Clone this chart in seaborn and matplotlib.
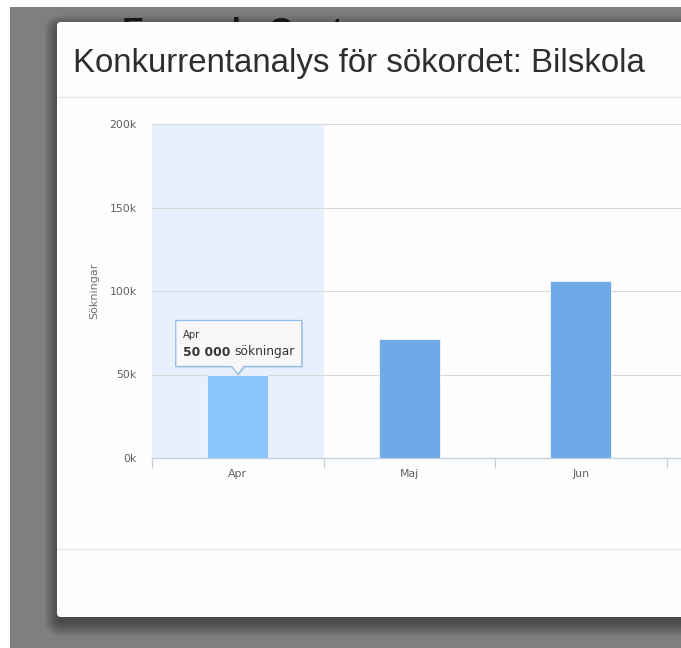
import matplotlib
matplotlib.use("Agg")
import matplotlib.pyplot as plt
import seaborn as sns
import pandas as pd
from matplotlib.patches import Rectangle, FancyBboxPatch, Polygon
from matplotlib.ticker import FuncFormatter, FixedLocator

# ---- data ----
months = ["Apr", "Maj", "Jun"]
searches = [50000, 71500, 106000]
y_ticks = [0, 50000, 100000, 150000, 200000]
title = "Konkurrentanalys för sökordet: Bilskola"
y_label = "Sökningar"
bg_title = "Example Customer"
tooltip_unit = "sökningar"

sns.set_theme(style="white")
plt.rcParams['font.family'] = ['DejaVu Sans']

W, H = 681, 648
fig = plt.figure(figsize=(W / 100, H / 100), dpi=100)
fig.patch.set_facecolor("white")

# ---- background page + modal (pixel coordinates, y down) ----
bg = fig.add_axes([0, 0, 1, 1], zorder=0)
bg.set_xlim(0, W)
bg.set_ylim(H, 0)
bg.axis("off")
bg.add_patch(Rectangle((10, 7), W, H, facecolor="#7f7f7f", edgecolor="none", zorder=0))
bg.text(122, 41, bg_title, fontsize=24, fontweight="bold", color="#1e1e1e",
        family="Liberation Sans", va="baseline", zorder=1)
# soft shadow
mx0, my0, mw, mh = 57, 22, 700, 595
for k in range(11):
    e = k * 1.3
    bg.add_patch(FancyBboxPatch((mx0 - e + 1, my0 + 6 - e), mw + 2 * e, mh + 2 * e,
                                boxstyle="round,pad=0,rounding_size=%.1f" % (4 + e),
                                facecolor="black", edgecolor="none", alpha=0.045, zorder=2))
bg.add_patch(FancyBboxPatch((mx0, my0), mw, mh, boxstyle="round,pad=0,rounding_size=4",
                            facecolor="#fefefe", edgecolor="none", zorder=3))
bg.plot([57, W], [97, 97], color="#e5e5e5", lw=1.0, zorder=4)
bg.plot([57, W], [549, 549], color="#e5e5e5", lw=1.0, zorder=4)
tt = bg.text(73, 72, title, fontsize=20, color="#2e2e2e", family="Liberation Sans",
             va="baseline", zorder=5)

# ---- chart ----
left, right, top, bottom = 152, W, 124, 458
ax = fig.add_axes([left / W, (H - bottom) / H, (right - left) / W, (bottom - top) / H], zorder=1)
ax.set_facecolor("none")

df = pd.DataFrame({"month": months, "searches": searches})
palette = {m: ("#8bc5fc" if i == 0 else "#6fa9e7") for i, m in enumerate(months)}
ax.axvspan(-0.5, 0.5, color="#e7f0fc", zorder=0, lw=0)
sns.barplot(data=df, x="month", y="searches", hue="month", palette=palette,
            legend=False, width=0.356, saturation=1, ax=ax, zorder=3,
            edgecolor="white", linewidth=0.5)

ax.set_xlim(-0.5, (right - left) / 171.5 - 0.5)
ax.set_ylim(0, 200000)
ax.yaxis.set_major_locator(FixedLocator(y_ticks))
ax.yaxis.set_major_formatter(FuncFormatter(lambda v, p: f"{int(v / 1000)}k"))
ax.grid(axis="y", color="#d8d8d8", lw=0.8, zorder=1)
ax.set_axisbelow(True)
for gl in ax.get_ygridlines():
    gl.set_clip_on(False)
for s in ["top", "right", "left"]:
    ax.spines[s].set_visible(False)
ax.spines["bottom"].set_color("#c0d0e0")
ax.spines["bottom"].set_linewidth(0.9)
ax.spines["bottom"].set_zorder(4)

ax.set_xticks(range(len(months)))
ax.set_xticklabels(months)
ax.set_xticks([i - 0.5 for i in range(len(months) + 1)], minor=True)
ax.tick_params(axis="x", which="major", length=0, pad=8, labelsize=7.8, labelcolor="#606060")
ax.tick_params(axis="x", which="minor", length=7, width=0.9, color="#c0d0e0", bottom=True)
ax.tick_params(axis="y", length=0, pad=11, labelsize=7.8, labelcolor="#606060")
ax.set_xlabel("")
ax.set_ylabel(y_label, fontsize=8, color="#707070")
ax.yaxis.set_label_coords((99 - left) / (right - left), 0.5)

# fit title width
fig.canvas.draw()
w = tt.get_window_extent().width
tt.set_fontsize(20 * 572 / w)

# ---- tooltip anchored to Apr bar ----
ov = fig.add_axes([0, 0, 1, 1], zorder=2)
ov.set_xlim(0, W)
ov.set_ylim(H, 0)
ov.axis("off")
dx, dy = ax.transData.transform((0, searches[0]))
px, py = dx, H - dy
bl, br, btop, bbot = px - 62, px + 64, py - 54, py - 8
shadow = Polygon([(bl + 1.5, btop + 1.5), (br + 1.5, btop + 1.5), (br + 1.5, bbot + 1.5),
                  (px + 7.5, bbot + 1.5), (px + 1.5, py + 1.5), (px - 4.5, bbot + 1.5),
                  (bl + 1.5, bbot + 1.5)], closed=True, facecolor="black", alpha=0.08,
                 edgecolor="none")
ov.add_patch(shadow)
box = Polygon([(bl, btop), (br, btop), (br, bbot), (px + 6, bbot), (px, py),
               (px - 6, bbot), (bl, bbot)], closed=True, facecolor="#f8f8f8",
              edgecolor="#8fbbe9", lw=0.9, joinstyle="round")
ov.add_patch(box)
ov.text(bl + 7, btop + 17, months[0], fontsize=7.2, color="#333333", va="baseline")
val = f"{searches[0]:,}".replace(",", " ")
t1 = ov.text(bl + 7, btop + 35, val, fontsize=8.8, fontweight="bold", color="#333333",
             va="baseline")
fig.canvas.draw()
bb = t1.get_window_extent()
ov.text(bb.x1 + 4, btop + 35, tooltip_unit, fontsize=8.8, color="#333333", va="baseline")

fig.savefig("out.png", dpi=100)
